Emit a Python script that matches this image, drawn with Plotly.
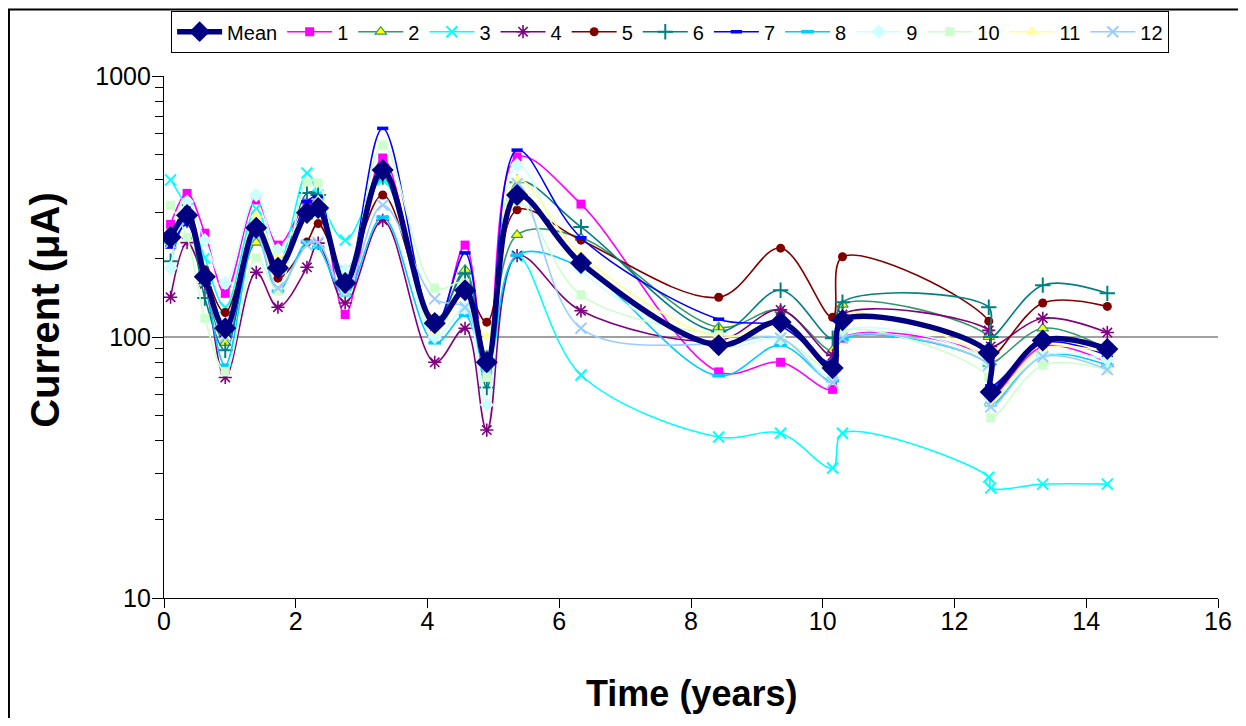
import plotly.graph_objects as go

times = [0.1, 0.35, 0.62, 0.93, 1.40, 1.73, 2.17, 2.34, 2.75, 3.32, 4.11, 4.57, 4.90,
         5.36, 6.33, 8.42, 9.36, 10.15, 10.30, 12.52, 12.55, 13.34, 14.32]

mean = [241, 293, 170, 108, 262, 184, 299, 312, 161, 436, 113, 151, 80, 350, 192, 93, 114, 76, 116, 87, 61.5, 97, 90]
s1 = [270, 355, 250, 147, 335, 225, 326, 330, 122, 485, 106, 225, 78, 490, 323, 73.5, 80, 63, 99, 82, 59, 92, 80]
s2 = [255, 286, 160, 95, 230, 190, 290, 320, 160, 420, 110, 181, 85, 246, 240, 109, 127, 89, 133, 100, 80, 108, 90]
s3 = [400, 310, 201, 130, 310, 190, 425, 350, 235, 400, 105, 150, 75, 204, 71.5, 41.4, 42.8, 31.5, 42.8, 29, 26.4, 27.3, 27.3]
s4 = [142, 230, 160, 70, 177, 130, 185, 229, 135, 280, 80, 108, 44, 205, 126, 97, 127, 85, 122, 106, 92, 118, 104]
s5 = [230, 320, 181, 124, 270, 168, 231, 272, 181, 350, 118, 150, 114, 307, 235, 142, 219, 119, 203, 115, 84, 135, 131]
s6 = [195, 280, 141, 89, 260, 180, 356, 350, 160, 410, 115, 175, 64, 392, 264, 105, 151, 99, 136, 130, 100, 158, 147]
s7 = [221, 270, 160, 100, 270, 180, 330, 345, 160, 630, 110, 210, 78, 520, 240, 117, 110, 80, 118, 88, 65, 95, 85]
s8 = [230, 298, 165, 78, 245, 150, 231, 221, 145, 288, 95, 121, 75, 206, 185, 71, 93, 68, 98, 78, 55, 85, 78]
s9 = [184, 330, 235, 161, 350, 216, 300, 300, 180, 440, 100, 129, 55, 456, 181, 92, 98, 70, 105, 80, 58, 85, 82]
s10 = [320, 241, 118, 73.5, 201, 150, 392, 389, 150, 544, 154, 161, 70, 330, 145, 102, 99, 75, 105, 70, 49, 78, 75]
s11 = [250, 280, 161, 100, 293, 201, 281, 335, 161, 444, 105, 145, 100, 400, 206, 100, 113, 75, 121, 80, 56, 90, 87]
s12 = [230, 280, 165, 100, 245, 154, 225, 230, 150, 320, 140, 130, 76, 387, 108, 94, 99, 67, 99, 78, 54, 84, 75]

series_names = ["1", "2", "3", "4", "5", "6", "7", "8", "9", "10", "11", "12"]
series_values = [s1, s2, s3, s4, s5, s6, s7, s8, s9, s10, s11, s12]
y_ticks = [10, 100, 1000]
y_minor = [20, 30, 40, 50, 60, 70, 80, 90, 200, 300, 400, 500, 600, 700, 800, 900]

styles = [
    dict(color="#FF00FF", symbol="square", fill="#FF00FF", size=9, lw=0),
    dict(color="#339966", symbol="triangle-up", fill="#FFFF00", size=10, lw=1.2),
    dict(color="#00FFFF", symbol="x-thin-open", fill="#00FFFF", size=11, lw=2),
    dict(color="#800080", symbol="asterisk-open", fill="#800080", size=11, lw=1.6),
    dict(color="#800000", symbol="circle", fill="#800000", size=9, lw=0),
    dict(color="#008080", symbol="cross-thin-open", fill="#008080", size=11, lw=2),
    dict(color="#0000FF", symbol="line-ew-open", fill="#0000FF", size=8, lw=3.5),
    dict(color="#00CCFF", symbol="line-ew-open", fill="#00CCFF", size=9, lw=3.5),
    dict(color="#CCFFFF", symbol="diamond", fill="#CCFFFF", size=11, lw=0),
    dict(color="#CCFFCC", symbol="square", fill="#CCFFCC", size=9, lw=0),
    dict(color="#FFFF99", symbol="triangle-up", fill="#FFFF99", size=11, lw=0),
    dict(color="#99CCFF", symbol="x-thin-open", fill="#99CCFF", size=11, lw=2),
]

FONT = "Liberation Sans, Arial, sans-serif"

fig = go.Figure()

for i, (name, vals, st) in enumerate(zip(series_names, series_values, styles)):
    fig.add_trace(go.Scatter(
        x=times, y=vals, name=name, mode="lines+markers",
        legendrank=i + 2,
        line=dict(color=st["color"], width=1.6, shape="spline", smoothing=1.0),
        marker=dict(symbol=st["symbol"], size=st["size"], color=st["fill"],
                    line=dict(color=st["color"], width=st["lw"])),
    ))

fig.add_trace(go.Scatter(
    x=times, y=mean, name="Mean", mode="lines+markers", legendrank=1,
    line=dict(color="#000080", width=5.5, shape="spline", smoothing=1.0),
    marker=dict(symbol="diamond", size=17, color="#000080"),
))

fig.add_hline(y=100, line=dict(color="#808080", width=1.5), layer="below")

fig.update_layout(
    width=1230, height=710,
    paper_bgcolor="white", plot_bgcolor="white",
    margin=dict(l=156, r=20, t=68, b=120, autoexpand=False),
    font=dict(family=FONT, color="black"),
    showlegend=True,
    legend=dict(orientation="h", x=0.48, xanchor="center", y=1.1245, yanchor="top",
                font=dict(size=20), bordercolor="#000000", borderwidth=1.2,
                bgcolor="white", itemwidth=45, tracegroupgap=0,
                traceorder="normal"),
    xaxis=dict(range=[0, 16], dtick=2, tick0=0, showgrid=False, zeroline=False,
               showline=True, linecolor="black", linewidth=1.2,
               ticks="outside", ticklen=9, tickcolor="black",
               tickfont=dict(size=25), ticklabelstandoff=-8, automargin=False),
    yaxis=dict(type="log", range=[1, 3], tickvals=y_ticks,
               ticktext=[str(v) for v in y_ticks], showgrid=False, zeroline=False,
               showline=True, linecolor="black", linewidth=1.2,
               ticks="outside", ticklen=11, tickcolor="black",
               tickfont=dict(size=25), ticklabelstandoff=-4, automargin=False,
               minor=dict(ticks="outside", ticklen=8, tickcolor="black", showgrid=False,
                          tickvals=y_minor)),
)

fig.add_annotation(text="<b>Time (years)</b>", xref="paper", yref="paper",
                   x=0.5, y=-0.182, xanchor="center", yanchor="middle",
                   showarrow=False, font=dict(size=36, family=FONT, color="black"))
fig.add_annotation(text="<b>Current (μA)</b>", xref="paper", yref="paper",
                   x=-0.1129, y=0.552, xanchor="center", yanchor="middle", textangle=-90,
                   showarrow=False, font=dict(size=40, family=FONT, color="black"))

fig.add_shape(type="rect", xref="paper", yref="paper",
              x0=-0.1471, x1=1.03, y0=-0.3, y1=1.1274,
              line=dict(color="black", width=2), fillcolor="rgba(0,0,0,0)", layer="below")

fig.write_html("out.html")
